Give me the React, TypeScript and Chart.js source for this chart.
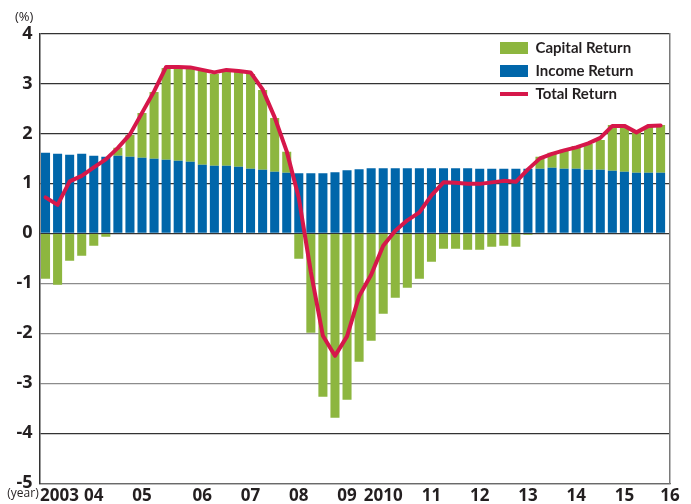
import React, { useEffect, useRef } from 'react';
import { Chart, registerables } from 'chart.js';

Chart.register(...registerables);

// Quarterly categories, 2003Q1 .. 2015Q4
const QUARTERS = [
  '2003Q1', '2003Q2', '2003Q3', '2003Q4', '2004Q1', '2004Q2', '2004Q3', '2004Q4',
  '2005Q1', '2005Q2', '2005Q3', '2005Q4', '2006Q1', '2006Q2', '2006Q3', '2006Q4',
  '2007Q1', '2007Q2', '2007Q3', '2007Q4', '2008Q1', '2008Q2', '2008Q3', '2008Q4',
  '2009Q1', '2009Q2', '2009Q3', '2009Q4', '2010Q1', '2010Q2', '2010Q3', '2010Q4',
  '2011Q1', '2011Q2', '2011Q3', '2011Q4', '2012Q1', '2012Q2', '2012Q3', '2012Q4',
  '2013Q1', '2013Q2', '2013Q3', '2013Q4', '2014Q1', '2014Q2', '2014Q3', '2014Q4',
  '2015Q1', '2015Q2', '2015Q3', '2015Q4',
];

const INCOME_RETURN = [
  1.61, 1.59, 1.57, 1.59, 1.55, 1.53, 1.55, 1.53,
  1.51, 1.49, 1.47, 1.45, 1.43, 1.37, 1.35, 1.35,
  1.33, 1.29, 1.27, 1.23, 1.21, 1.20, 1.20, 1.20,
  1.22, 1.26, 1.28, 1.30, 1.30, 1.30, 1.30, 1.30,
  1.30, 1.30, 1.30, 1.30, 1.29, 1.29, 1.29, 1.29,
  1.29, 1.29, 1.31, 1.29, 1.29, 1.27, 1.27, 1.25,
  1.23, 1.21, 1.21, 1.21,
];

const CAPITAL_RETURN = [
  -0.91, -1.03, -0.55, -0.45, -0.25, -0.07, 0.16, 0.44,
  0.90, 1.34, 1.84, 1.86, 1.88, 1.88, 1.84, 1.90,
  1.90, 1.90, 1.60, 1.08, 0.42, -0.51, -1.99, -3.27,
  -3.69, -3.33, -2.57, -2.15, -1.61, -1.29, -1.09, -0.91,
  -0.57, -0.31, -0.31, -0.33, -0.33, -0.27, -0.25, -0.27,
  -0.03, 0.24, 0.30, 0.38, 0.46, 0.52, 0.60, 0.92,
  0.90, 0.82, 0.94, 0.96,
];

const TOTAL_RETURN = [
  0.72, 0.57, 1.04, 1.15, 1.32, 1.48, 1.71, 1.98,
  2.41, 2.84, 3.33, 3.33, 3.32, 3.27, 3.22, 3.27,
  3.25, 3.22, 2.88, 2.32, 1.64, 0.71, -0.77, -2.05,
  -2.45, -2.06, -1.26, -0.83, -0.25, 0.05, 0.26, 0.42,
  0.76, 1.02, 1.01, 0.99, 0.99, 1.02, 1.05, 1.03,
  1.28, 1.50, 1.59, 1.66, 1.72, 1.80, 1.91, 2.15,
  2.15, 2.02, 2.15, 2.16,
];

// x-axis labels and the quarter index (in QUARTERS units) at which each is centred
const YEAR_LABELS = ['(year)', '2003', '04', '05', '06', '07', '08', '09', '2010', '11', '12', '13', '14', '15', '16'];
const YEAR_LABEL_AT = [-1.87, 1.16, 4, 8, 13, 17, 21, 25, 28, 32, 36, 40, 44, 48, 51.78];

const Y_TICKS_MIN = -5;
const Y_TICKS_MAX = 4;

const GREEN = '#8DB63F';
const BLUE = '#0066AA';
const RED = '#D6174A';
const TEXT = '#231F20';
const FONT = "'Open Sans', 'DejaVu Sans', sans-serif";
const LEGEND_FONT = "Lato, 'Open Sans', sans-serif";

const LEGEND_ORDER = ['Capital Return', 'Income Return', 'Total Return'];

const legendPlacer = {
  id: 'legendPlacer',
  beforeDraw(chart: any) {
    const lg = chart.legend;
    if (!lg) return;
    const a = chart.chartArea;
    lg.left = a.right - 178;
    lg.right = a.right;
    lg.top = a.top - 1;
    lg.bottom = a.top + 150;
  },
};

export default function App() {
  const canvasRef = useRef<HTMLCanvasElement | null>(null);

  useEffect(() => {
    document.body.style.margin = '0';
    const canvas = canvasRef.current;
    if (!canvas) return;

    const toXY = (arr: number[]) => arr.map((v, i) => ({ x: i, y: v, q: QUARTERS[i] }));

    const chart = new Chart(canvas, {
      type: 'bar',
      data: {
        datasets: [
          {
            type: 'bar',
            label: 'Income Return',
            data: toXY(INCOME_RETURN),
            backgroundColor: BLUE,
            borderWidth: 0,
            stack: 'ret',
            pointStyle: 'rect',
            categoryPercentage: 1,
            barPercentage: 0.75,
            order: 1,
          } as any,
          {
            type: 'bar',
            label: 'Capital Return',
            data: toXY(CAPITAL_RETURN),
            backgroundColor: GREEN,
            borderWidth: 0,
            stack: 'ret',
            pointStyle: 'rect',
            categoryPercentage: 1,
            barPercentage: 0.75,
            order: 1,
          } as any,
          {
            type: 'line',
            label: 'Total Return',
            data: toXY(TOTAL_RETURN),
            borderColor: RED,
            backgroundColor: RED,
            borderWidth: 4,
            borderCapStyle: 'round',
            borderJoinStyle: 'round',
            pointRadius: 0,
            pointStyle: 'line',
            tension: 0,
            fill: false,
            stack: 'total',
            order: -1,
          } as any,
        ],
      },
      options: {
        responsive: false,
        animation: false,
        events: [],
        layout: { padding: { left: 15, right: 0, top: 0, bottom: 0 } },
        scales: {
          x: {
            type: 'linear',
            min: -0.5,
            max: 51.78,
            offset: false,
            bounds: 'data',
            stacked: true,
            grid: { display: false, drawTicks: false },
            border: { display: true, color: '#6a6a6a', width: 1.2 },
            afterBuildTicks: (s: any) => {
              s.ticks = YEAR_LABEL_AT.map((v) => ({ value: v }));
            },
            afterFit: (s: any) => {
              s.height = 20.7;
            },
            ticks: {
              autoSkip: false,
              maxRotation: 0,
              minRotation: 0,
              padding: 3,
              color: TEXT,
              font: (c: any) =>
                c.index === 0
                  ? { family: FONT, size: 12, weight: 'normal' }
                  : { family: FONT, size: 17, weight: 'bold' },
              callback: (_v: any, i: number) => YEAR_LABELS[i],
            },
          } as any,
          y: {
            type: 'linear',
            min: Y_TICKS_MIN,
            max: Y_TICKS_MAX,
            stacked: true,
            grid: {
              drawTicks: false,
              lineWidth: 1.2,
              color: (c: any) => {
                const v = c.tick && c.tick.value;
                if (v < 0 && v > -4) return '#8c8c8c';
                if (v === -5) return '#6a6a6a';
                return '#333333';
              },
            },
            border: { display: true, color: '#333333', width: 1.5 },
            afterFit: (s: any) => {
              s.width = 24.5;
            },
            ticks: {
              stepSize: 1,
              padding: 7,
              color: TEXT,
              font: { family: FONT, size: 18, weight: 'bold' },
              callback: (v: any) => String(v),
            },
          } as any,
          yR: {
            type: 'linear',
            position: 'right',
            min: Y_TICKS_MIN,
            max: Y_TICKS_MAX,
            grid: { display: false, drawTicks: false },
            border: { display: true, color: '#7a7a7a', width: 1.5 },
            ticks: { display: false },
            afterFit: (s: any) => {
              s.width = 21;
            },
          } as any,
        },
        plugins: {
          tooltip: { enabled: false },
          title: {
            display: true,
            text: '(%)',
            align: 'start',
            color: TEXT,
            font: { family: FONT, size: 13, weight: 'normal', lineHeight: 1.2 },
            padding: { top: 9.5, bottom: 8.3 },
          },
          legend: {
            display: true,
            position: 'chartArea',
            align: 'start',
            labels: {
              usePointStyle: true,
              pointStyleWidth: 28,
              boxHeight: 12,
              padding: 8,
              color: TEXT,
              font: { family: LEGEND_FONT, size: 15, weight: 'bold' },
              sort: (a: any, b: any) => LEGEND_ORDER.indexOf(a.text) - LEGEND_ORDER.indexOf(b.text),
            },
          },
        },
      } as any,
      plugins: [legendPlacer],
    });

    return () => chart.destroy();
  }, []);

  return (
    <div style={{ width: 691, height: 504 }}>
      <canvas ref={canvasRef} width={691} height={504} />
    </div>
  );
}
